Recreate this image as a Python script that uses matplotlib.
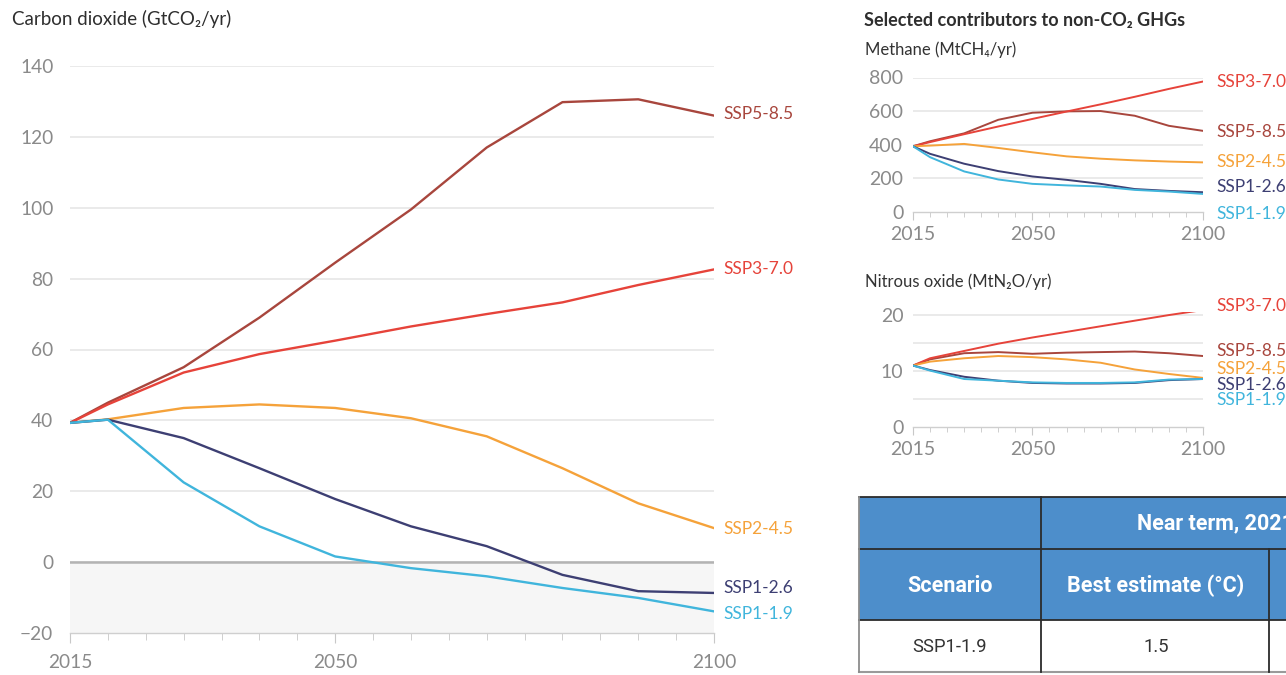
import matplotlib
matplotlib.use("Agg")
import matplotlib.pyplot as plt
from matplotlib.lines import Line2D
from matplotlib.patches import Rectangle

plt.rcParams['font.family'] = ['Lato', 'DejaVu Sans']

# ---------------- data ----------------
years = [2015, 2020, 2030, 2040, 2050, 2060, 2070, 2080, 2090, 2100]
scenarios = ["SSP5-8.5", "SSP3-7.0", "SSP2-4.5", "SSP1-2.6", "SSP1-1.9"]
colors = ["#a8463d", "#e6433a", "#f5a23a", "#3d3f73", "#40b5dc"]

co2_ssp585 = [39.3, 45.0, 55.0, 69.0, 84.5, 99.5, 117.0, 129.8, 130.6, 126.0]
co2_ssp370 = [39.3, 44.5, 53.5, 58.7, 62.5, 66.5, 70.0, 73.3, 78.2, 82.6]
co2_ssp245 = [39.3, 40.3, 43.5, 44.5, 43.5, 40.6, 35.5, 26.5, 16.6, 9.6]
co2_ssp126 = [39.3, 40.2, 35.0, 26.5, 17.8, 10.1, 4.5, -3.6, -8.2, -8.7]
co2_ssp119 = [39.3, 40.2, 22.5, 10.1, 1.6, -1.7, -4.0, -7.3, -10.1, -13.9]

ch4_ssp585 = [390, 420, 467, 548, 590, 598, 600, 572, 512, 482]
ch4_ssp370 = [390, 415, 462, 508, 553, 597, 640, 685, 732, 776]
ch4_ssp245 = [390, 394, 404, 380, 354, 330, 316, 306, 299, 294]
ch4_ssp126 = [390, 345, 286, 242, 210, 190, 166, 135, 124, 116]
ch4_ssp119 = [390, 325, 240, 192, 166, 157, 150, 130, 120, 106]

n2o_ssp585 = [10.9, 12.0, 13.1, 13.3, 13.0, 13.2, 13.3, 13.4, 13.1, 12.6]
n2o_ssp370 = [10.9, 12.2, 13.5, 14.8, 15.9, 16.9, 17.9, 18.9, 19.9, 20.8]
n2o_ssp245 = [10.9, 11.6, 12.2, 12.6, 12.4, 12.0, 11.4, 10.2, 9.4, 8.7]
n2o_ssp126 = [10.9, 10.1, 8.9, 8.2, 7.8, 7.7, 7.7, 7.8, 8.3, 8.5]
n2o_ssp119 = [10.9, 10.0, 8.5, 8.2, 7.9, 7.8, 7.8, 7.9, 8.4, 8.5]

co2 = [co2_ssp585, co2_ssp370, co2_ssp245, co2_ssp126, co2_ssp119]
ch4 = [ch4_ssp585, ch4_ssp370, ch4_ssp245, ch4_ssp126, ch4_ssp119]
n2o = [n2o_ssp585, n2o_ssp370, n2o_ssp245, n2o_ssp126, n2o_ssp119]

co2_ticks = [-20, 0, 20, 40, 60, 80, 100, 120, 140]
ch4_ticks = [0, 200, 400, 600, 800]
n2o_ticks = [0, 10, 20]
n2o_grid = [5, 10, 15, 20]
x_labels = [2015, 2050, 2100]

table_header_top = "Near term, 2021\u20132040"
table_cols = ["Scenario", "Best estimate (\u00b0C)"]
table_row = ["SSP1-1.9", "1.5"]

# label anchor heights (layout only)
co2_label_y = [126.5, 82.8, 9.3, -7.3, -14.6]
ch4_label_y = [478, 771, 297, 146, -13]
n2o_label_y = [13.5, 21.6, 10.3, 7.5, 4.8]

# ---------------- layout helpers ----------------
W, H = 1286, 675
fig = plt.figure(figsize=(W / 100, H / 100), dpi=100)


def fx(px):
    return px / W


def fy(py):
    return 1 - py / H


def axes_px(x0, x1, ytop, ybot):
    return fig.add_axes([fx(x0), fy(ybot), fx(x1) - fx(x0), fy(ytop) - fy(ybot)])


TICK_COLOR = "#8a8a8a"
GRID = "#e4e4e4"


def style_axes(ax, yticks, ylim, fs, ypad, maj_len, min_len, xpad, grid_vals=None):
    ax.set_xlim(2015, 2100)
    ax.set_ylim(*ylim)
    for s in ["top", "right", "left"]:
        ax.spines[s].set_visible(False)
    ax.spines["bottom"].set_color("#cfcfcf")
    ax.spines["bottom"].set_linewidth(1.0)
    ax.set_xticks(x_labels)
    ax.set_xticks(range(2015, 2101, 5), minor=True)
    ax.set_yticks(yticks)
    ax.tick_params(axis="y", length=0, labelsize=fs, labelcolor=TICK_COLOR, pad=ypad)
    ax.tick_params(axis="x", which="major", length=maj_len, color="#c8c8c8",
                   labelsize=fs, labelcolor=TICK_COLOR, pad=xpad)
    ax.tick_params(axis="x", which="minor", length=min_len, color="#c8c8c8")
    gv = grid_vals if grid_vals is not None else yticks
    for v in gv:
        if v != ylim[0]:
            ax.axhline(v, color=GRID, lw=1.1, zorder=0)
    ax.set_facecolor("none")


# ---------------- main CO2 chart ----------------
ax = axes_px(70, 714, 66, 633)
style_axes(ax, co2_ticks, (-20, 140), 13.8, 12, 7.5, 5, 7.5)
ax.axhspan(-20, 0, color="#f6f6f6", zorder=0, lw=0)
ax.axhline(0, color="#b3b3b3", lw=1.8, zorder=1)
for vals, c in zip(co2, colors):
    ax.plot(years, vals, color=c, lw=1.7, zorder=3, solid_joinstyle="round")
for name, c, ly in zip(scenarios, colors, co2_label_y):
    ax.annotate(name, xy=(2100, ly), xytext=(9, 0), textcoords="offset pixels",
                va="center", ha="left", fontsize=12.5, color=c, annotation_clip=False)

fig.text(fx(12), fy(19), "Carbon dioxide (GtCO\u2082/yr)", fontsize=13.5,
         color="#2e2e2e", va="center", ha="left")

# ---------------- methane ----------------
ax2 = axes_px(913, 1203, 77.5, 211.7)
style_axes(ax2, ch4_ticks, (0, 800), 14, 7, 5.5, 3.5, 4.5)
for vals, c in zip(ch4, colors):
    ax2.plot(years, vals, color=c, lw=1.4, zorder=3)
for name, c, ly in zip(scenarios, colors, ch4_label_y):
    ax2.annotate(name, xy=(2100, ly), xytext=(13, 0), textcoords="offset pixels",
                 va="center", ha="left", fontsize=12.5, color=c, annotation_clip=False)

# ---------------- nitrous oxide ----------------
ax3 = axes_px(913, 1203, 311.7, 426.7)
style_axes(ax3, n2o_ticks, (0, 20), 14, 7, 5.5, 3.5, 4.5, grid_vals=n2o_grid)
ax3.set_ylim(0, 20.5)
for vals, c in zip(n2o, colors):
    ax3.plot(years, vals, color=c, lw=1.4, zorder=3)
for name, c, ly in zip(scenarios, colors, n2o_label_y):
    ax3.annotate(name, xy=(2100, ly), xytext=(13, 0), textcoords="offset pixels",
                 va="center", ha="left", fontsize=12.5, color=c, annotation_clip=False)

fig.text(fx(864), fy(20), "Selected contributors to non-CO\u2082 GHGs", fontsize=13,
         fontweight="bold", color="#2e2e2e", va="center", ha="left")
fig.text(fx(865), fy(50), "Methane (MtCH\u2084/yr)", fontsize=12,
         color="#333333", va="center", ha="left")
fig.text(fx(865), fy(282), "Nitrous oxide (MtN\u2082O/yr)", fontsize=12,
         color="#333333", va="center", ha="left")

# ---------------- table ----------------
BLUE = "#4d8ecb"
fig.add_artist(Rectangle((fx(859), fy(620)), fx(1300) - fx(859), fy(497) - fy(620),
                         transform=fig.transFigure, facecolor=BLUE, edgecolor="none"))


def hline(y, x0, x1, color="#2b2b2b", lw=1.3):
    fig.add_artist(Line2D([fx(x0), fx(x1)], [fy(y), fy(y)], transform=fig.transFigure,
                          color=color, lw=lw))


def vline(x, y0, y1, color="#2b2b2b", lw=1.3):
    fig.add_artist(Line2D([fx(x), fx(x)], [fy(y0), fy(y1)], transform=fig.transFigure,
                          color=color, lw=lw))


hline(497, 859, 1290)
hline(549, 859, 1290)
hline(620, 859, 1290)
hline(672, 859, 1290, color="#9a9a9a", lw=1.5)
vline(859, 497, 672, color="#8c8c8c", lw=1.3)
vline(1041, 497, 672)
vline(1269, 549, 672)

TFONT = ["Roboto", "DejaVu Sans"]
fig.text(fx(1137), fy(523), table_header_top, family=TFONT, fontsize=15.5,
         fontweight="bold", color="white", va="center", ha="left")
fig.text(fx(950), fy(586), table_cols[0], family=TFONT, fontsize=15.5,
         fontweight="bold", color="white", va="center", ha="center")
fig.text(fx(1156), fy(586), table_cols[1], family=TFONT, fontsize=15.5,
         fontweight="bold", color="white", va="center", ha="center")
fig.text(fx(950), fy(647), table_row[0], family=TFONT, fontsize=13.2,
         color="#333333", va="center", ha="center")
fig.text(fx(1156), fy(647), table_row[1], family=TFONT, fontsize=13.2,
         color="#333333", va="center", ha="center")

fig.savefig("out.png", dpi=100)
